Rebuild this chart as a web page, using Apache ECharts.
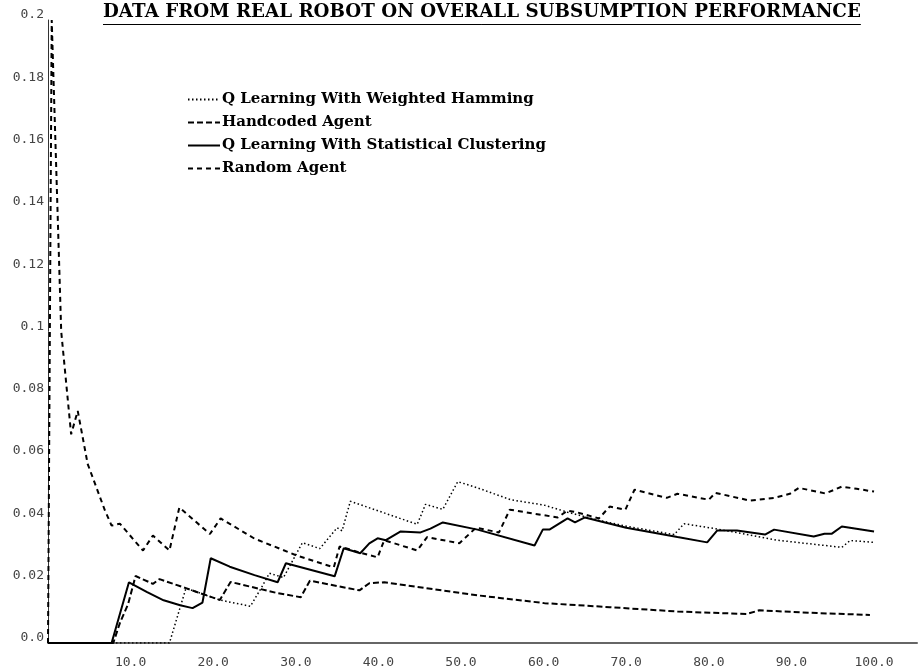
<!DOCTYPE html>
<html>
<head>
<meta charset="utf-8">
<script src="https://cdn.jsdelivr.net/npm/echarts@6/dist/echarts.min.js"></script>
<style>
  html, body { margin: 0; padding: 0; background: #fff; }
  #chart { width: 920px; height: 670px; }
</style>
</head>
<body>
<div id="chart"></div>
<script>
// values (x = episode, y = performance)
const seriesNames = [
  'Q Learning With Weighted Hamming',
  'Handcoded Agent',
  'Q Learning With Statistical Clustering',
  'Random Agent'
];

// dotted
const hammingX = [0, 14.7, 16.7, 20.8, 24.5, 25.8, 26.8, 28.5, 30.8, 32.9, 35.0, 35.6, 36.6, 44.7, 45.7, 47.8, 49.6, 52, 56, 60, 62.9, 66.5, 70, 75.8, 77, 80.8, 88.3, 96.1, 97.1, 100];
const hammingY = [0, 0, 0.0176, 0.0138, 0.0118, 0.0176, 0.0224, 0.021, 0.0322, 0.0303, 0.037, 0.036, 0.0455, 0.0381, 0.0445, 0.0429, 0.0518, 0.0498, 0.046, 0.0443, 0.042, 0.0395, 0.0375, 0.0348, 0.0383, 0.0367, 0.033, 0.0307, 0.0329, 0.0323];

// short dense dashes
const handX = [0, 7.9, 8.7, 9.7, 10.6, 12.7, 13.5, 16.7, 20.8, 22.1, 27.8, 30.6, 31.7, 37.7, 38.9, 40.7, 52, 60.1, 68, 76.2, 84.6, 86.1, 93.1, 96.4, 99.5];
const handY = [0, 0, 0.0064, 0.0125, 0.0215, 0.019, 0.0205, 0.0176, 0.0138, 0.0196, 0.016, 0.0147, 0.020, 0.0169, 0.0192, 0.0195, 0.0153, 0.0128, 0.0115, 0.0101, 0.0093, 0.0105, 0.0096, 0.0093, 0.009];

// solid
const clusterX = [0, 7.7, 9.8, 12, 14, 16, 17.5, 18.7, 19.7, 22, 25, 27.8, 28.8, 34.7, 35.8, 37.8, 38.9, 39.9, 40.9, 42.7, 45.1, 46.3, 47.8, 52, 58.9, 59.9, 60.7, 62.9, 63.8, 65, 70, 76.2, 79.8, 81, 83.4, 86.8, 87.9, 92.7, 94, 94.9, 96.1, 100];
const clusterY = [0, 0, 0.0195, 0.0163, 0.0137, 0.0121, 0.0112, 0.013, 0.0272, 0.0245, 0.0218, 0.0195, 0.0256, 0.0214, 0.0304, 0.0288, 0.032, 0.0336, 0.033, 0.0358, 0.0355, 0.0367, 0.0387, 0.0364, 0.0313, 0.0364, 0.0364, 0.040, 0.0387, 0.0403, 0.037, 0.034, 0.0323, 0.0361, 0.0361, 0.0348, 0.0364, 0.0342, 0.0351, 0.0351, 0.0374, 0.0358];

// sparse dashes, spikes at the start
const randomX = [0, 0.45, 1.6, 2.8, 3.6, 4.8, 6.9, 7.7, 8.7, 11.5, 12.7, 14.7, 15.9, 19.6, 20.9, 25, 30.2, 34.6, 35.3, 37.8, 39.9, 40.7, 44.7, 45.9, 49.8, 51.8, 54.6, 55.9, 61.7, 62.9, 64.1, 66.7, 68, 69.9, 71, 74.9, 76.2, 80, 80.8, 85, 87.9, 89.8, 90.9, 94.1, 96.1, 97.9, 100];
const randomY = [0, 0.2, 0.1, 0.067, 0.0745, 0.0575, 0.0425, 0.0377, 0.0383, 0.0297, 0.0345, 0.0297, 0.0435, 0.035, 0.040, 0.0335, 0.028, 0.0243, 0.031, 0.029, 0.0275, 0.033, 0.0297, 0.034, 0.032, 0.037, 0.0355, 0.0428, 0.0403, 0.0425, 0.0419, 0.040, 0.0438, 0.0428, 0.0492, 0.0466, 0.0479, 0.046, 0.0482, 0.0457, 0.0466, 0.0479, 0.0498, 0.048, 0.0502, 0.0495, 0.0486];

const titleText = 'DATA FROM REAL ROBOT ON OVERALL SUBSUMPTION PERFORMANCE';

function pairs(xs, ys) {
  return xs.map((x, i) => [x, ys[i]]);
}

// width of the title so the underline fits it
const titleFont = 'bold 18.3px "DejaVu Serif"';
const ctx = document.createElement('canvas').getContext('2d');
ctx.font = titleFont;
const titleW = ctx.measureText(titleText).width;
const titleLeft = 103;

const chart = echarts.init(document.getElementById('chart'));

const option = {
  animation: false,
  backgroundColor: '#fff',
  grid: { left: 48, right: 0, top: 20, bottom: 27 },
  graphic: [
    {
      type: 'text', left: titleLeft, top: 3,
      style: { text: titleText, font: titleFont, fill: '#000' }
    },
    {
      type: 'line',
      shape: { x1: titleLeft, y1: 24.5, x2: titleLeft + titleW, y2: 24.5 },
      style: { stroke: '#000', lineWidth: 1 }
    }
  ],
  legend: {
    orient: 'vertical',
    left: 187,
    top: 92,
    padding: 0,
    itemWidth: 32,
    itemHeight: 14,
    itemGap: 8,
    data: seriesNames,
    // hide the marker dot, keep the line sample
    itemStyle: { opacity: 0 },
    textStyle: {
      fontFamily: 'DejaVu Serif',
      fontWeight: 'bold',
      fontSize: 15,
      color: '#000',
      padding: [0, 0, 0, -3]
    }
  },
  xAxis: {
    type: 'value',
    min: 0,
    max: 105.2,
    interval: 10,
    splitLine: { show: false },
    axisTick: { show: false },
    axisLine: { lineStyle: { color: '#666', width: 2 } },
    axisLabel: {
      margin: 13,
      fontFamily: 'DejaVu Sans Mono',
      fontSize: 13,
      color: '#444',
      showMinLabel: false,
      formatter: v => (v > 0 && v <= 100 && v % 10 === 0) ? v.toFixed(1) : ''
    }
  },
  yAxis: {
    type: 'value',
    min: 0,
    max: 0.2,
    interval: 0.02,
    splitLine: { show: false },
    axisTick: { show: false },
    axisLine: { show: true, lineStyle: { color: '#333', width: 1 } },
    axisLabel: {
      margin: 4,
      fontFamily: 'DejaVu Sans Mono',
      fontSize: 13,
      color: '#444',
      verticalAlign: 'bottom',
      lineHeight: 10,
      formatter: v => v === 0 ? '0.0' : String(+v.toFixed(2))
    }
  },
  series: [
    {
      name: seriesNames[0], type: 'line', symbol: 'none',
      data: pairs(hammingX, hammingY),
      lineStyle: { color: '#000', width: 1.5, type: [1.5, 2.5] },
      itemStyle: { color: '#000' }
    },
    {
      name: seriesNames[1], type: 'line', symbol: 'none',
      data: pairs(handX, handY),
      lineStyle: { color: '#000', width: 2, type: [6, 3] },
      itemStyle: { color: '#000' }
    },
    {
      name: seriesNames[2], type: 'line', symbol: 'none',
      data: pairs(clusterX, clusterY),
      lineStyle: { color: '#000', width: 2 },
      itemStyle: { color: '#000' }
    },
    {
      name: seriesNames[3], type: 'line', symbol: 'none',
      data: pairs(randomX, randomY),
      lineStyle: { color: '#000', width: 2, type: [5, 4] },
      itemStyle: { color: '#000' }
    }
  ]
};

chart.setOption(option);
</script>
</body>
</html>
